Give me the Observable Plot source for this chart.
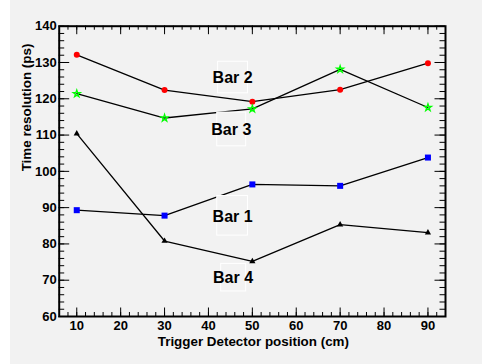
<!DOCTYPE html>
<html>
<head>
<meta charset="utf-8">
<script src="https://cdn.jsdelivr.net/npm/d3@7"></script>
<script src="https://cdn.jsdelivr.net/npm/@observablehq/plot@0.6"></script>
<style>
  html, body { margin: 0; padding: 0; background: #f2f2f2; }
  #chart svg { display: block; }
</style>
</head>
<body>
<div id="chart"></div>
<script>
// ---- data ----
const positions = [10, 30, 50, 70, 90];
const bar1 = [89.3, 87.8, 96.4, 96.0, 103.8];
const bar2 = [132.1, 122.4, 119.2, 122.5, 129.8];
const bar3 = [121.4, 114.7, 117.2, 128.1, 117.6];
const bar4 = [110.4, 80.8, 75.2, 85.3, 83.1];

const xTickLabels = [10, 20, 30, 40, 50, 60, 70, 80, 90];
const yTickLabels = [60, 70, 80, 90, 100, 110, 120, 130, 140];

const labelNames = ["Bar 2", "Bar 3", "Bar 1", "Bar 4"];
const labelX = [45.5, 45.2, 45.5, 45.6];
const labelY = [125.7, 111.5, 87.4, 70.7];
const boxX1 = [42.2, 42.0, 42.0, 42.9];
const boxX2 = [49.0, 48.6, 49.0, 48.6];
const boxY1 = [121.5, 106.9, 82.3, 66.9];
const boxY2 = [130.2, 116.2, 93.2, 74.5];

const xTitle = "Trigger Detector position (cm)";
const yTitle = "Time resolution (ps)";

// ---- build tables ----
const series = [
  {name: "Bar 1", values: bar1},
  {name: "Bar 2", values: bar2},
  {name: "Bar 3", values: bar3},
  {name: "Bar 4", values: bar4}
];
const rows = series.flatMap(s => positions.map((p, i) => ({series: s.name, x: p, y: s.values[i]})));
const bySeries = name => rows.filter(r => r.series === name);
const labels = labelNames.map((n, i) => ({name: n, x: labelX[i], y: labelY[i]}));
const boxes = labelNames.map((n, i) => ({x1: boxX1[i], x2: boxX2[i], y1: boxY1[i], y2: boxY2[i]}));

const xMinor = d3.range(8, 93, 2);
const yMinor = d3.range(60, 141, 2);

const W = 482, H = 364, mt = 25.7, mb = 48, ml = 58.7, mr = 37;
const plotH = H - mt - mb, plotW = W - ml - mr;
const font = "'Liberation Sans', Arial, Helvetica, sans-serif";

const chart = Plot.plot({
  width: W,
  height: H,
  marginTop: mt,
  marginBottom: mb,
  marginLeft: ml,
  marginRight: mr,
  style: {
    background: "linear-gradient(to right, #ffffff 0px, #ffffff 10px, #f2f2f2 10px)",
    fontFamily: font,
    fontWeight: "bold",
    color: "black"
  },
  x: {domain: [6, 94], axis: null},
  y: {domain: [60, 140], axis: null},
  marks: [
    // lines
    Plot.line(rows, {x: "x", y: "y", z: "series", stroke: "black", strokeWidth: 1.3}),
    // label boxes
    Plot.rect(boxes, {x1: "x1", x2: "x2", y1: "y1", y2: "y2", fill: "#f2f2f2", stroke: "white", strokeWidth: 1}),
    Plot.text(labels, {x: "x", y: "y", text: "name", fontSize: 16, fontWeight: "bold", fill: "black", lineAnchor: "middle"}),
    // markers
    Plot.dot(bySeries("Bar 1"), {x: "x", y: "y", symbol: "square", fill: "#0000ff", r: 3.4}),
    Plot.dot(bySeries("Bar 2"), {x: "x", y: "y", symbol: "circle", fill: "#ff0000", r: 3}),
    Plot.dot(bySeries("Bar 3"), {x: "x", y: "y", symbol: "star", fill: "none", stroke: "#00ff00", strokeWidth: 1.3, r: 2.2}),
    Plot.dot(bySeries("Bar 4"), {x: "x", y: "y", symbol: "triangle", fill: "black", r: 2.3}),
    // ticks (inside)
    Plot.tickX(xMinor, {x: d => d, insetTop: plotH - 4, stroke: "black", strokeWidth: 1}),
    Plot.tickX(xMinor, {x: d => d, insetBottom: plotH - 4, stroke: "black", strokeWidth: 1}),
    Plot.tickX(xTickLabels, {x: d => d, insetTop: plotH - 8.5, stroke: "black", strokeWidth: 1}),
    Plot.tickX(xTickLabels, {x: d => d, insetBottom: plotH - 8.5, stroke: "black", strokeWidth: 1}),
    Plot.tickY(yMinor, {y: d => d, insetRight: plotW - 5.5, stroke: "black", strokeWidth: 1}),
    Plot.tickY(yMinor, {y: d => d, insetLeft: plotW - 5.5, stroke: "black", strokeWidth: 1}),
    Plot.tickY(yTickLabels, {y: d => d, insetRight: plotW - 10.5, stroke: "black", strokeWidth: 1}),
    Plot.tickY(yTickLabels, {y: d => d, insetLeft: plotW - 10.5, stroke: "black", strokeWidth: 1}),
    // tick labels
    Plot.axisX(xTickLabels, {tickSize: 0, tickPadding: 4, fontSize: 13, fontWeight: "bold", fill: "black", label: null}),
    Plot.axisY(yTickLabels, {tickSize: 0, tickPadding: 2.5, fontSize: 13, fontWeight: "bold", fill: "black", label: null}),
    // titles
    Plot.text([xTitle], {frameAnchor: "bottom", dy: 25, dx: 1, lineAnchor: "middle", fontSize: 13.4, fontWeight: "bold", fill: "black"}),
    Plot.text([yTitle], {frameAnchor: "left", dx: -32, rotate: -90, lineAnchor: "middle", fontSize: 13.4, fontWeight: "bold", fill: "black"}),
    // frame
    Plot.frame({stroke: "black", strokeWidth: 2})
  ]
});
document.getElementById("chart").append(chart);
</script>
</body>
</html>
